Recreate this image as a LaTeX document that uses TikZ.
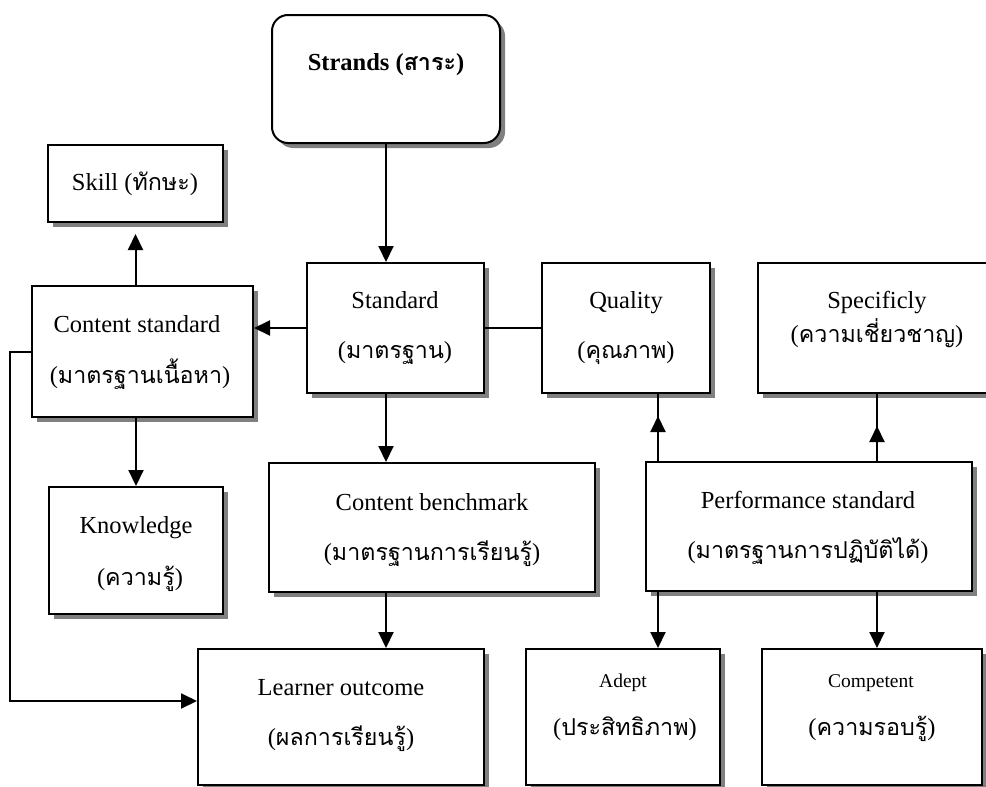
\documentclass[tikz,border=0pt]{standalone}
\usepackage{fontspec}
\setmainfont{Liberation Serif}
\newfontfamily\thaifont[Script=Thai,Scale=0.95]{Loma}
\newcommand\thaitxt[1]{{\thaifont #1}}
\usetikzlibrary{arrows.meta,shadows}

\begin{document}
\begin{tikzpicture}[x=1pt,y=-1pt,
  box/.style={draw, line width=2pt, fill=white, inner sep=0pt,
    drop shadow={shadow xshift=5pt, shadow yshift=-5pt, fill=black!50, opacity=1}},
  lbl/.style={anchor=base, inner sep=0pt, font=\fontsize{24.5}{28}\selectfont},
  smalllbl/.style={anchor=base, inner sep=0pt, font=\fontsize{19.5}{23}\selectfont},
  arr/.style={line width=2pt, -{Triangle[length=16pt,width=15pt]}},
  link/.style={line width=2pt}]

\useasboundingbox (0,0) rectangle (986,787);

% ---------- boxes ----------
\node[box, rounded corners=16pt, minimum width=228pt, minimum height=128pt] (strands) at (386,79) {};
\node[box, minimum width=175pt, minimum height=77pt]  (skill)   at (135.5,183.5) {};
\node[box, minimum width=221pt, minimum height=131pt] (cstd)    at (142.5,351.5) {};
\node[box, minimum width=177pt, minimum height=130pt] (std)     at (395.5,328) {};
\node[box, minimum width=168pt, minimum height=130pt] (qual)    at (626,328) {};
\node[box, minimum width=238pt, minimum height=130pt] (spec)    at (877,328) {};
\node[box, minimum width=174pt, minimum height=127pt] (know)    at (136,550.5) {};
\node[box, minimum width=326pt, minimum height=129pt] (cbench)  at (432,527.5) {};
\node[box, minimum width=326pt, minimum height=129pt] (perf)    at (809,526.5) {};
\node[box, minimum width=286pt, minimum height=136pt] (learner) at (341,717) {};
\node[box, minimum width=194pt, minimum height=136pt] (adept)   at (623,717) {};
\node[box, minimum width=220pt, minimum height=136pt] (comp)    at (872,717) {};

% ---------- texts ----------
\node[lbl, font=\fontsize{24.5}{28}\selectfont\bfseries] (t-strands) at (386,70) {Strands (\thaitxt{สาระ})};
\node[lbl] (t-skill)  at (135,190) {Skill (\thaitxt{ทักษะ})};
\node[lbl] (t-cstd1)  at (137,332) {Content standard};
\node[lbl] (t-cstd2)  at (140,383) {(\thaitxt{มาตรฐานเนื้อหา})};
\node[lbl] (t-std1)   at (395,308) {Standard};
\node[lbl] (t-std2)   at (395,358) {(\thaitxt{มาตรฐาน})};
\node[lbl] (t-qual1)  at (626,308) {Quality};
\node[lbl] (t-qual2)  at (626,358) {(\thaitxt{คุณภาพ})};
\node[lbl] (t-spec1)  at (877,308) {Specificly};
\node[lbl] (t-spec2)  at (877,342) {(\thaitxt{ความเชี่ยวชาญ})};
\node[lbl] (t-know1)  at (136,533) {Knowledge};
\node[lbl] (t-know2)  at (140,585) {(\thaitxt{ความรู้})};
\node[lbl] (t-cb1)    at (432,510) {Content benchmark};
\node[lbl] (t-cb2)    at (432,560) {(\thaitxt{มาตรฐานการเรียนรู้})};
\node[lbl] (t-perf1)  at (808,508) {Performance standard};
\node[lbl] (t-perf2)  at (808,558) {(\thaitxt{มาตรฐานการปฏิบัติได้})};
\node[lbl] (t-lo1)    at (341,695) {Learner outcome};
\node[lbl] (t-lo2)    at (341,745) {(\thaitxt{ผลการเรียนรู้})};
\node[smalllbl] (t-adept1) at (623,687) {Adept};
\node[lbl]      (t-adept2) at (625,735) {(\thaitxt{ประสิทธิภาพ})};
\node[smalllbl] (t-comp1)  at (871,687) {Competent};
\node[lbl]      (t-comp2)  at (872,735) {(\thaitxt{ความรอบรู้})};

% ---------- connector columns ----------
\coordinate (colq) at (658,0);
\coordinate (cols) at (877,0);

% ---------- connectors ----------
\draw[arr] (strands.south) -- (strands.south |- std.north);
\draw[arr] (std.west) -- (std.west -| cstd.east);
\draw[link] (std.east) -- (qual.west);
\draw[arr, shorten >=11pt] (skill.south |- cstd.north) -- (skill.south);
\draw[arr] (know.north |- cstd.south) -- (know.north);
\draw[arr] (strands.south |- std.south) -- (strands.south |- cbench.north);
\draw[arr] (strands.south |- cbench.south) -- (strands.south |- learner.north);
\draw[arr] (cstd.west) -- ++(-21,0) |- ([yshift=16pt]learner.west);

% Performance standard up to Quality and Specificly (head part-way)
\draw[link] (perf.north -| colq) -- (qual.south -| colq);
\draw[arr]  (perf.north -| colq) -- ++(0,-45);
\draw[link] (perf.north -| cols) -- (spec.south -| cols);
\draw[arr]  (perf.north -| cols) -- ++(0,-35);

% Performance standard down to Adept and Competent
\draw[arr] (perf.south -| colq) -- (adept.north -| colq);
\draw[arr] (perf.south -| cols) -- (comp.north -| cols);
\end{tikzpicture}
\end{document}
